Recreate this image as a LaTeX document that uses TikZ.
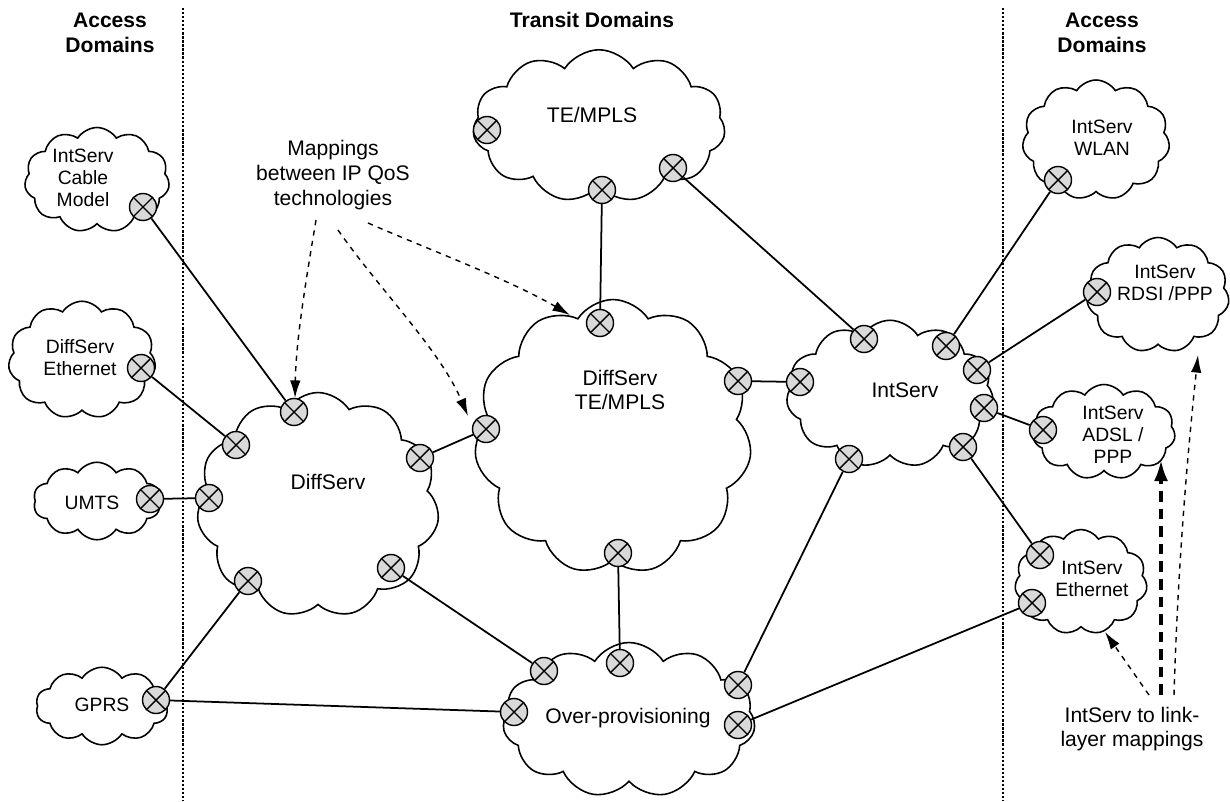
\documentclass[tikz,border=0pt]{standalone}
\usepackage{fontspec}
\setmainfont{Liberation Sans}
\usetikzlibrary{shapes.symbols,arrows.meta}
\tikzset{
	qoscloud/.style={draw, line width=0.9pt, fill=white, cloud, cloud puffs=11, cloud puff arc=115, cloud ignores aspect, inner sep=0pt},
	port/.style={circle, draw, line width=0.8pt, fill=black!15, minimum size=0.54cm, inner sep=0pt,
		path picture={\draw[line width=0.8pt] (path picture bounding box.south west) -- (path picture bounding box.north east)
			(path picture bounding box.north west) -- (path picture bounding box.south east);}},
	link/.style={line width=1pt},
	mapping/.style={dashed, line width=0.8pt, -{Latex[length=10pt,width=6pt]}},
	bigtxt/.style={font=\fontsize{12}{14}\selectfont, align=center},
	smalltxt/.style={font=\fontsize{11}{12.5}\selectfont, align=center},
	heading/.style={font=\fontsize{12}{14}\selectfont\bfseries, align=center},
	border/.style={densely dotted, line width=1.3pt},
}

\begin{document}
\begin{tikzpicture}[x=0.02cm, y=-0.02cm]
	%%%%% START %%%%%
	\useasboundingbox (0,0) rectangle (1230,801);

	\draw[border] (183,8) -- (183,801);
	\draw[border] (1003,8) -- (1003,801);

	\node[heading] (accL) at (110,33) {Access\\Domains};
	\node[heading] (trans) at (592,20) {Transit Domains};
	\node[heading] (accR) at (1102,33) {Access\\Domains};

	% access clouds, left
	\node[qoscloud, minimum width=2.9cm, minimum height=2.1cm] (cable) at (97,180) {};
	\node[smalltxt] (cableT) at (83,178) {IntServ\\Cable\\Model};
	\node[qoscloud, minimum width=2.95cm, minimum height=2.35cm] (ethL) at (82,360) {};
	\node[smalltxt] (ethLT) at (80,358) {DiffServ\\Ethernet};
	\node[qoscloud, minimum width=2.55cm, minimum height=1.55cm, cloud puffs=10] (umts) at (97,501) {};
	\node[smalltxt] (umtsT) at (92,503) {UMTS};
	\node[qoscloud, minimum width=2.65cm, minimum height=1.55cm, cloud puffs=10] (gprs) at (102,706) {};
	\node[smalltxt] (gprsT) at (102,705) {GPRS};

	% transit clouds
	\node[qoscloud, minimum width=4.85cm, minimum height=4.5cm] (ds) at (318,505) {};
	\node[bigtxt] (dsT) at (328,482) {DiffServ};
	\node[qoscloud, minimum width=5.05cm, minimum height=3.05cm] (te) at (599,126) {};
	\node[bigtxt] (teT) at (592,115) {TE/MPLS};
	\node[qoscloud, minimum width=5.55cm, minimum height=5.5cm] (dt) at (613,437) {};
	\node[bigtxt] (dtT) at (620,390) {DiffServ\\TE/MPLS};
	\node[qoscloud, minimum width=4.15cm, minimum height=2.95cm] (is) at (890,394) {};
	\node[bigtxt] (isT) at (905,390) {IntServ};
	\node[qoscloud, minimum width=5.05cm, minimum height=3.1cm] (op) at (629,720) {};
	\node[bigtxt] (opT) at (628,718) {Over-provisioning};

	% access clouds, right
	\node[qoscloud, minimum width=2.95cm, minimum height=2.4cm] (wlan) at (1096,140) {};
	\node[smalltxt] (wlanT) at (1102,138) {IntServ\\WLAN};
	\node[qoscloud, minimum width=2.85cm, minimum height=2.3cm] (rdsi) at (1158,295) {};
	\node[smalltxt] (rdsiT) at (1165,283) {IntServ\\RDSI /PPP};
	\node[qoscloud, minimum width=2.85cm, minimum height=1.9cm] (adsl) at (1104,432) {};
	\node[smalltxt] (adslT) at (1113,435) {IntServ\\ADSL /\\PPP};
	\node[qoscloud, minimum width=2.65cm, minimum height=2.1cm] (ethR) at (1081,582) {};
	\node[smalltxt] (ethRT) at (1092,579) {IntServ\\Ethernet};

	% ports
	\node[port] (cmP) at (143,207) {};
	\node[port] (etP) at (141,368) {};
	\node[port] (umP) at (150,499) {};
	\node[port] (gpP) at (156,700) {};
	\node[port] (dsN) at (294,412) {};
	\node[port] (dsNW) at (236,445) {};
	\node[port] (dsW) at (209,498) {};
	\node[port] (dsE) at (420,458) {};
	\node[port] (dsSW) at (248,581) {};
	\node[port] (dsSE) at (391,568) {};
	\node[port] (dtW) at (486,429) {};
	\node[port] (dtN) at (600,323) {};
	\node[port] (dtE) at (738,381) {};
	\node[port] (dtS) at (618,553) {};
	\node[port] (teW) at (487,130) {};
	\node[port] (teS) at (602,190) {};
	\node[port] (teE) at (673,168) {};
	\node[port] (isW) at (800,382) {};
	\node[port] (isN) at (864,339) {};
	\node[port] (isNE) at (946,346) {};
	\node[port] (isE) at (977,370) {};
	\node[port] (isE2) at (984,408) {};
	\node[port] (isSE) at (963,447) {};
	\node[port] (isSW) at (849,459) {};
	\node[port] (opNW) at (544,671) {};
	\node[port] (opN) at (620,663) {};
	\node[port] (opW) at (514,712) {};
	\node[port] (opNE) at (738,685) {};
	\node[port] (opE) at (738,725) {};
	\node[port] (wlP) at (1058,180) {};
	\node[port] (rdP) at (1097,292) {};
	\node[port] (adP) at (1043,430) {};
	\node[port] (ehN) at (1040,555) {};
	\node[port] (ehW) at (1032,603) {};

	% links
	\draw[link] (cmP) -- (dsN);
	\draw[link] (etP) -- (dsNW);
	\draw[link] (umP) -- (dsW);
	\draw[link] (gpP) -- (dsSW);
	\draw[link] (gpP) -- (opW);
	\draw[link] (dsE) -- (dtW);
	\draw[link] (dsSE) -- (opNW);
	\draw[link] (teS) -- (dtN);
	\draw[link] (teE) -- (isN);
	\draw[link] (dtE) -- (isW);
	\draw[link] (dtS) -- (opN);
	\draw[link] (opNE) -- (isSW);
	\draw[link] (opE) -- (ehW);
	\draw[link] (isNE) -- (wlP);
	\draw[link] (isE) -- (rdP);
	\draw[link] (isE2) -- (adP);
	\draw[link] (isSE) -- (ehN);

	% mapping notes
	\node[bigtxt] (mapQ) at (333,175) {Mappings\\between IP QoS\\technologies};
	\coordinate (qA) at (316,220);
	\coordinate (qB) at (338,230);
	\coordinate (qC) at (368,223);
	\coordinate (qAend) at (295,398);
	\coordinate (qBend) at (468,416);
	\coordinate (qCend) at (570,315);
	\draw[mapping] (qA) .. controls (306,280) and (296,340) .. (qAend);
	\draw[mapping] (qB) .. controls (380,290) and (440,350) .. (qBend);
	\draw[mapping] (qC) .. controls (430,250) and (510,280) .. (qCend);

	\node[bigtxt] (mapL) at (1132,729) {IntServ to link-\\layer mappings};
	\coordinate (lA) at (1149,695);
	\coordinate (lB) at (1161,695);
	\coordinate (lC) at (1174,695);
	\coordinate (lAend) at (1105,632);
	\coordinate (lBend) at (1161,460);
	\coordinate (lCend) at (1198,355);
	\draw[mapping] (lA) -- (lAend);
	\draw[mapping, line width=2pt, dash pattern=on 6pt off 4pt, -{Latex[length=12pt,width=8pt]}] (lB) -- (lBend);
	\draw[mapping] (lC) .. controls (1178,560) and (1188,450) .. (lCend);
	%%%%% END %%%%%
\end{tikzpicture}
\end{document}
